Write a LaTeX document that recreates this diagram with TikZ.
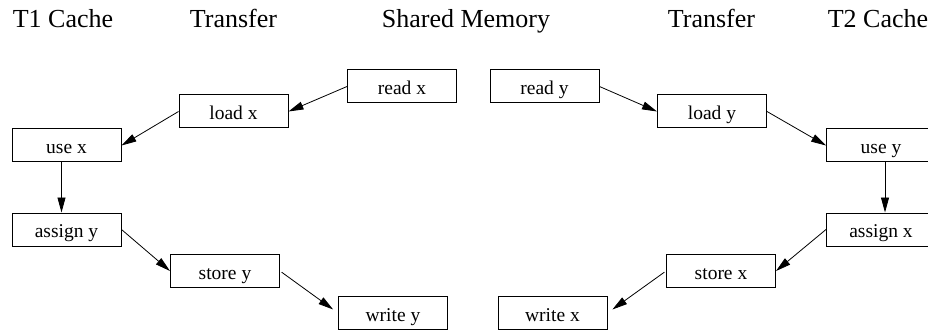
\documentclass[tikz,border=0pt]{standalone}
\usepackage{fontspec}
\setmainfont{Liberation Serif}
\usetikzlibrary{arrows.meta}

\begin{document}
\begin{tikzpicture}[x=1pt,y=-1pt,
  every node/.style={font=\fontsize{19.5}{22}\selectfont},
  op/.style={draw,line width=1pt,minimum width=109pt,minimum height=33pt,
    inner sep=0pt,text height=16.5pt,text depth=0pt},
  hd/.style={anchor=base,font=\fontsize{26}{28}\selectfont},
  msg/.style={-{Triangle[length=15pt,width=8pt]},line width=0.8pt}]
 \useasboundingbox (0,0) rectangle (928,331);
 % column headings
 \node[hd] (h1) at (63,28)  {T1 Cache};
 \node[hd] (h2) at (233.5,28) {Transfer};
 \node[hd] (h3) at (466,28) {Shared Memory};
 \node[hd] (h4) at (711.5,28) {Transfer};
 \node[hd] (h5) at (878,28) {T2 Cache};
 % thread 1
 \node[op] (readx)   at (402,86.5)  {read x};
 \node[op] (loadx)   at (233.5,111.5) {load x};
 \node[op] (usex)    at (66.5,145.5) {use x};
 \node[op] (assigny) at (66.5,229.5) {assign y};
 \node[op] (storey)  at (225,271)   {store y};
 \node[op] (writey)  at (393,313)   {write y};
 % thread 2
 \node[op] (ready)   at (544.5,86.5) {read y};
 \node[op] (loady)   at (712,111.5) {load y};
 \node[op] (usey)    at (881,145.5) {use y};
 \node[op] (assignx) at (881,229.5) {assign x};
 \node[op] (storex)  at (721,271)   {store x};
 \node[op] (writex)  at (552.5,313) {write x};
 \foreach \a/\b in {readx/loadx,loadx/usex} \draw[msg] (\a.west) -- (\b.east);
 \foreach \a/\b in {ready/loady,loady/usey,assigny/storey} \draw[msg] (\a.east) -- (\b.west);
 \draw[msg] (assignx.west) -- (storex.east);
 \draw[msg,shorten <=2pt,shorten >=6pt] (storey.east) -- (writey.west);
 \draw[msg,shorten <=2pt,shorten >=6pt] (storex.west) -- (writex.east);
 \draw[msg] ([xshift=-5pt]usex.south) -- ([xshift=-5pt]assigny.north);
 \draw[msg] ([xshift=4pt]usey.south) -- ([xshift=4pt]assignx.north);
\end{tikzpicture}
\end{document}
